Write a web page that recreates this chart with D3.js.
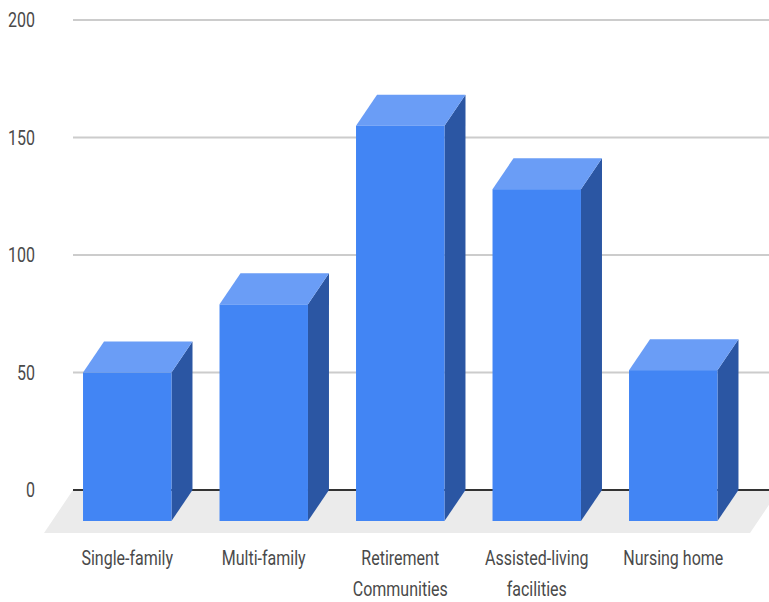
<!DOCTYPE html>
<html>
<head>
<meta charset="utf-8">
<script src="https://cdn.jsdelivr.net/npm/d3@7"></script>
<style>
  html, body { margin: 0; padding: 0; background: #fff; }
  svg { display: block; }
  text { font-family: Roboto, "Noto Sans", sans-serif; fill: #4a4a4a; }
</style>
</head>
<body>
<svg id="chart" width="769" height="602"></svg>
<script>
// Residence types and counts
const categories = ["Single-family", "Multi-family", "Retirement Communities", "Assisted-living facilities", "Nursing home"];
const categoryLines = [["Single-family"], ["Multi-family"], ["Retirement", "Communities"], ["Assisted-living", "facilities"], ["Nursing home"]];
const values = [50, 79, 155, 128, 51];
const yTicks = [0, 50, 100, 150, 200];

const svg = d3.select("#chart");
const W = 769, H = 602;

// 3D depth offset of the back face relative to the front face
const depthX = 21, depthY = -31;
// floor depth in front of the back wall
const floorDX = -29, floorDY = 43;
// condensed look for the labels
const squeeze = 0.8;
const fontSize = 20;

const y = d3.scaleLinear().domain([0, 200]).range([490, 20]);
const x = d3.scaleBand().domain(categories).range([59, 741.5]).paddingInner(0.352).paddingOuter(0.176);

// Floor
const y0 = y(0);
svg.append("path")
  .attr("d", `M73,${y0} L${W + 10},${y0} L${W + 10 + floorDX},${y0 + floorDY} L${73 + floorDX},${y0 + floorDY} Z`)
  .attr("fill", "#ebebeb");

// Gridlines on the back wall
svg.append("g").selectAll("line")
  .data(yTicks.filter(d => d !== 0))
  .join("line")
  .attr("x1", 73).attr("x2", W)
  .attr("y1", d => y(d)).attr("y2", d => y(d))
  .attr("stroke", "#cccccc").attr("stroke-width", 2);

// Baseline
svg.append("line")
  .attr("x1", 73).attr("x2", W)
  .attr("y1", y0).attr("y2", y0)
  .attr("stroke", "#333").attr("stroke-width", 2);

// Axis tick labels
svg.append("g").selectAll("text")
  .data(yTicks)
  .join("text")
  .attr("transform", d => `translate(35,${y(d)}) scale(${squeeze},1)`)
  .attr("dy", "0.35em")
  .attr("text-anchor", "end")
  .attr("font-size", fontSize)
  .text(d => d);

// Bars
const bars = svg.append("g").selectAll("g")
  .data(categories.map((c, i) => ({ c, v: values[i] })))
  .join("g");

const bw = x.bandwidth();
const frontBottom = y0 - depthY;

// right side face
bars.append("path")
  .attr("d", d => {
    const xr = x(d.c) + bw, yt = y(d.v);
    return `M${xr},${yt} L${xr + depthX},${yt + depthY} L${xr + depthX},${frontBottom + depthY} L${xr},${frontBottom} Z`;
  })
  .attr("fill", "#2b56a3");

// top face
bars.append("path")
  .attr("d", d => {
    const xl = x(d.c), xr = xl + bw, yt = y(d.v);
    return `M${xl},${yt} L${xl + depthX},${yt + depthY} L${xr + depthX},${yt + depthY} L${xr},${yt} Z`;
  })
  .attr("fill", "#6a9df6");

// front face
bars.append("rect")
  .attr("x", d => x(d.c))
  .attr("y", d => y(d.v))
  .attr("width", bw)
  .attr("height", d => frontBottom - y(d.v))
  .attr("fill", "#4285f4");

// Category labels, one text per line
const labelData = [];
categories.forEach((c, i) => {
  categoryLines[i].forEach((t, k) => labelData.push({ t, cx: x(c) + bw / 2, ly: 565 + k * 31 }));
});
svg.append("g").selectAll("text")
  .data(labelData)
  .join("text")
  .attr("transform", d => `translate(${d.cx},${d.ly}) scale(${squeeze},1)`)
  .attr("text-anchor", "middle")
  .attr("font-size", fontSize)
  .text(d => d.t);
</script>
</body>
</html>
